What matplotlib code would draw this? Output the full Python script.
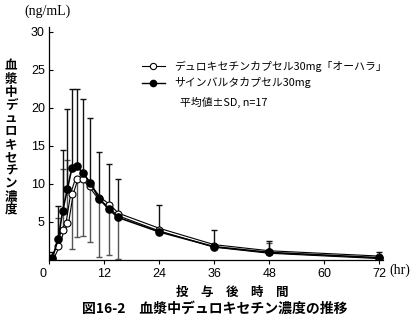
import matplotlib
matplotlib.use("Agg")
import matplotlib.pyplot as plt
import matplotlib.transforms as mtransforms
import matplotlib.patheffects as pe
from matplotlib.lines import Line2D

JP = ['Noto Sans CJK JP', 'DejaVu Sans']
NUM = ['Liberation Sans', 'DejaVu Sans']

# ---- data ----
times = [0, 0.7, 2, 3, 4, 5, 6, 7.5, 9, 11, 13, 15, 24, 36, 48, 72]
ohara_mean = [0.05, 0.15, 1.8, 3.9, 4.9, 8.7, 10.6, 10.7, 9.7, 8.1, 7.2, 6.0, 4.0, 1.85, 1.05, 0.35]
ohara_sd_up = [0.2, 0.5, 3.7, 8.1, 8.2, 0, 0, 0, 0, 0, 0, 0, 0, 0, 1.2, 0]
ohara_sd_down = [0, 0, 0, 0, 0, 7.3, 7.6, 7.5, 7.3, 7.7, 6.6, 5.9, 0, 0, 0, 0]
cymbalta_mean = [0.05, 0.2, 2.75, 6.5, 9.3, 12.1, 12.3, 11.4, 10.1, 8.0, 6.7, 5.6, 3.7, 1.75, 1.0, 0.3]
cymbalta_sd_up = [0.2, 0.8, 4.3, 7.9, 10.5, 10.3, 10.1, 9.8, 8.5, 6.2, 5.9, 5.1, 3.5, 2.2, 1.5, 0.7]
cymbalta_sd_down = [0] * 16

series_labels = ["デュロキセチンカプセル30mg「オーハラ」", "サインバルタカプセル30mg"]
note = "平均値±SD, n=17"
xticks = [0, 12, 24, 36, 48, 60, 72]
yticks = [5, 10, 15, 20, 25, 30]
ylabel_text = "血漿中デュロキセチン濃度"
xlabel_text = "投　与　後　時　間"
title_text = "図16-2　血漿中デュロキセチン濃度の推移"

fig = plt.figure(figsize=(4.16, 3.23), dpi=100)
ax = fig.add_axes([49/416, 1-260/323, 334/416, 233/323])

# error bars
ax.errorbar(times, ohara_mean, yerr=[ohara_sd_down, ohara_sd_up], fmt='none',
            ecolor='#555555', elinewidth=1.0, capsize=2, capthick=1.0, zorder=2)
ax.errorbar(times, cymbalta_mean, yerr=[cymbalta_sd_down, cymbalta_sd_up], fmt='none',
            ecolor='#111111', elinewidth=1.0, capsize=2, capthick=1.0, zorder=2)

# lines
ax.plot(times, ohara_mean, color='white', lw=1.0, zorder=3,
        path_effects=[pe.Stroke(linewidth=2.6, foreground='black'), pe.Normal()])
ax.plot(times, ohara_mean, ls='none', marker='o', ms=5.0, mfc='white', mec='black',
        mew=0.8, zorder=4)
ax.plot(times, cymbalta_mean, color='black', lw=1.2, marker='o', ms=5.2, mfc='black',
        mec='black', zorder=5)

ax.set_xlim(0, 72.8)
ax.set_ylim(0, 30.6)
for s in ['top', 'right']:
    ax.spines[s].set_visible(False)
for s in ['left', 'bottom']:
    ax.spines[s].set_linewidth(0.9)

ax.set_xticks(xticks)
ax.set_xticklabels([str(v) for v in xticks], fontfamily=NUM, fontsize=9)
ax.set_yticks(yticks)
ax.set_yticklabels([str(v) for v in yticks], fontfamily=NUM, fontsize=9)
ax.tick_params(axis='x', direction='out', length=3, width=0.8, pad=3)
ax.tick_params(axis='y', direction='in', length=3, width=0.8, pad=3)
# shift the "0" label a bit to the left like the reference
lab0 = ax.get_xticklabels()[0]
lab0.set_transform(lab0.get_transform() + mtransforms.ScaledTranslation(-6/100, 0, fig.dpi_scale_trans))

# legend
h1 = Line2D([], [], color='black', lw=0.8, marker='o', ms=4.5, mfc='white', mec='black', mew=0.8)
h2 = Line2D([], [], color='black', lw=1.0, marker='o', ms=4.5, mfc='black', mec='black')
leg = ax.legend([h1, h2], series_labels, loc='upper left', bbox_to_anchor=(0.278, 0.855),
                frameon=False, borderpad=0, borderaxespad=0, handlelength=2.1,
                handletextpad=0.85, labelspacing=0.5, prop={'family': JP, 'size': 7.8})
ax.text(0.392, 0.676, note, transform=ax.transAxes, ha='left', va='center',
        fontfamily=JP, fontsize=7.8)

# texts
fig.text(24/416, 1-11/323, "(ng/mL)", ha='left', va='center',
         fontfamily=['Liberation Serif', 'DejaVu Serif'], fontsize=10)
fig.text(400/416, 1-270/323, "(hr)", ha='center', va='center',
         fontfamily=['Liberation Serif', 'DejaVu Serif'], fontsize=10)
fig.text(11/416, 1-138/323, "\n".join(ylabel_text), ha='center', va='center',
         fontfamily=JP, fontsize=9, fontweight='bold', linespacing=1.0)
fig.text(232/416, 1-292/323, xlabel_text, ha='center', va='center',
         fontfamily=JP, fontsize=9, fontweight='bold')
fig.text(215/416, 1-309/323, title_text, ha='center', va='center',
         fontfamily=JP, fontsize=10, fontweight='bold')

fig.savefig("out.png", dpi=100)
